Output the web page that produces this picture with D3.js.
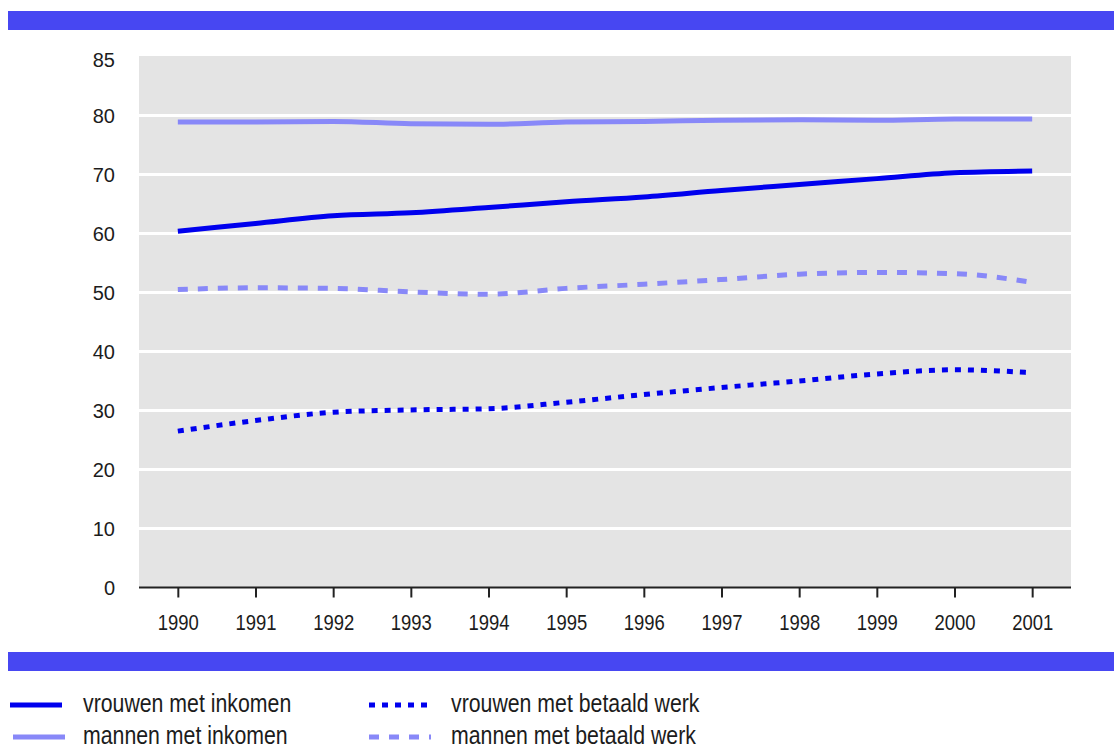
<!DOCTYPE html>
<html><head><meta charset="utf-8">
<script src="https://cdn.jsdelivr.net/npm/d3@7"></script>
<style>
body{margin:0;background:#fff;}
svg{display:block;}
text{font-family:"Liberation Sans",Arial,sans-serif;fill:#1c1c1c;}
</style></head><body>
<svg id="c" width="1114" height="749"></svg>
<script>
const years = [1990,1991,1992,1993,1994,1995,1996,1997,1998,1999,2000,2001];
const vrouwenInkomen = [60.4,61.7,63.0,63.5,64.4,65.4,66.2,67.3,68.3,69.3,70.3,70.6];
const mannenInkomen  = [78.9,78.9,79.0,78.6,78.5,78.9,79.0,79.2,79.3,79.2,79.4,79.4];
const vrouwenWerk    = [26.5,28.3,29.7,30.1,30.3,31.4,32.7,33.9,35.0,36.2,36.9,36.4];
const mannenWerk     = [50.5,50.8,50.7,50.1,49.7,50.7,51.4,52.2,53.1,53.4,53.2,51.7];
const yTickValues = [0,10,20,30,40,50,60,70,80,90];
const yTickLabels = ["0","10","20","30","40","50","60","70","80","85"];
const seriesNames = ["vrouwen met inkomen","mannen met inkomen","vrouwen met betaald werk","mannen met betaald werk"];

const svg = d3.select("#c");
const BAR = "#4747f2", DARK = "#0000ee", LIGHT = "#8888f8", BG = "#e4e4e4";
const L = 139, R = 1071, T = 56, B = 587.5;

const x = d3.scalePoint().domain(years).range([L, R]).padding(0.5);
const y = d3.scaleLinear().domain([0, 90]).range([B, T + 0.5]);

// bands
svg.append("rect").attr("x",8).attr("y",11).attr("width",1106).attr("height",19).attr("fill",BAR);
svg.append("rect").attr("x",8).attr("y",652).attr("width",1106).attr("height",19).attr("fill",BAR);

// plot background
svg.append("rect").attr("x",L).attr("y",T).attr("width",R-L).attr("height",B-T).attr("fill",BG);

// gridlines
svg.append("g").selectAll("line").data(yTickValues.filter(v => v > 0 && v < 90)).join("line")
  .attr("x1",L).attr("x2",R).attr("y1",d=>y(d)).attr("y2",d=>y(d))
  .attr("stroke","#fff").attr("stroke-width",3);

// y axis labels
const yAxis = d3.axisLeft(y).tickValues(yTickValues).tickSize(0).tickPadding(24)
  .tickFormat((d,i) => yTickLabels[i]);
const gy = svg.append("g").attr("transform",`translate(${L},0)`).call(yAxis);
gy.select(".domain").remove();
gy.selectAll("text").style("font-size","20px").attr("fill","#1c1c1c").attr("dy","0.36em");
gy.selectAll(".tick").filter(d => d === 90).select("text").attr("dy","0.5em");

// x axis
const xAxis = d3.axisBottom(x).tickSize(10).tickPadding(17).tickFormat(d => String(d));
const gx = svg.append("g").attr("transform",`translate(0,${B})`).call(xAxis);
gx.select(".domain").attr("d",`M${L},0H${R}`).attr("stroke","#222").attr("stroke-width",2);
gx.selectAll(".tick line").attr("stroke","#222").attr("stroke-width",2);
gx.selectAll("text").style("font-size","22px").attr("fill","#1c1c1c")
  .attr("transform","scale(0.84,1)");

// lines
const series = [
  {name:seriesNames[1], values:mannenInkomen, color:LIGHT, dash:null},
  {name:seriesNames[3], values:mannenWerk, color:LIGHT, dash:"10,10"},
  {name:seriesNames[0], values:vrouwenInkomen, color:DARK, dash:null},
  {name:seriesNames[2], values:vrouwenWerk, color:DARK, dash:"6,7"}
];
const line = d3.line().x((d,i)=>x(years[i])).y(d=>y(d)).curve(d3.curveMonotoneX);
svg.append("g").selectAll("path").data(series).join("path")
  .attr("d",d=>line(d.values)).attr("fill","none")
  .attr("stroke",d=>d.color).attr("stroke-width",5)
  .attr("stroke-dasharray",d=>d.dash);

// legend
const legend = [
  {name:seriesNames[0], color:DARK, dash:null, x1:10, x2:62, tx:83, y:705},
  {name:seriesNames[1], color:LIGHT, dash:null, x1:13, x2:65, tx:83, y:737},
  {name:seriesNames[2], color:DARK, dash:"6,7", x1:369, x2:431, tx:451, y:705},
  {name:seriesNames[3], color:LIGHT, dash:"10,10", x1:369, x2:431, tx:451, y:737}
];
const lg = svg.append("g").selectAll("g").data(legend).join("g");
lg.append("line").attr("x1",d=>d.x1).attr("x2",d=>d.x2).attr("y1",d=>d.y).attr("y2",d=>d.y)
  .attr("stroke",d=>d.color).attr("stroke-width",5).attr("stroke-dasharray",d=>d.dash);
lg.append("text").attr("transform",d=>`translate(${d.tx},${d.y}) scale(0.835,1)`)
  .attr("dy","0.28em").style("font-size","25.5px").text(d=>d.name);
</script>
</body></html>
